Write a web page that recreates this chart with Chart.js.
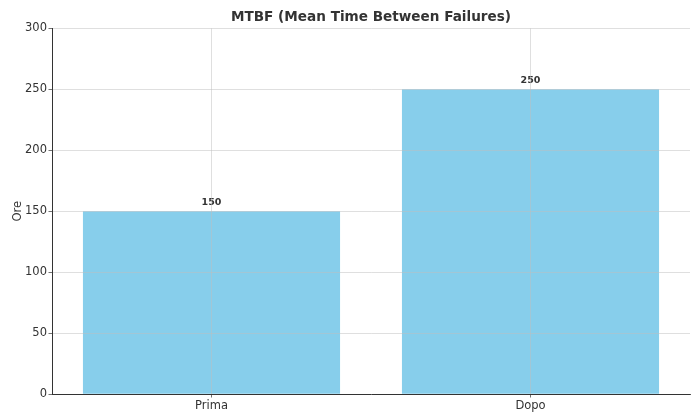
<!DOCTYPE html>
<html><head><meta charset="utf-8">
<script src="https://cdn.jsdelivr.net/npm/chart.js@4/dist/chart.umd.min.js"></script>
<style>html,body{margin:0;padding:0;background:#fff}#wrap{width:700px;height:420px}</style>
</head><body><div id="wrap"><canvas id="c" width="700" height="420"></canvas></div>
<script>
const categories = ["Prima", "Dopo"];
const mtbfValues = [150, 250];
const yTicks = [0, 50, 100, 150, 200, 250, 300];

const FONT = "'DejaVu Sans', sans-serif";
const valueLabels = {
  id: 'valueLabels',
  afterDatasetsDraw(chart) {
    const ctx = chart.ctx;
    const meta = chart.getDatasetMeta(0);
    ctx.save();
    ctx.font = "bold 9.5px " + FONT;
    ctx.fillStyle = '#333';
    ctx.textAlign = 'center';
    ctx.textBaseline = 'bottom';
    meta.data.forEach((bar, i) => {
      ctx.fillText(String(mtbfValues[i]), bar.x, bar.y - 4);
    });
    ctx.restore();
  }
};

const gridOpts = {
  z: 1,
  color: 'rgba(190,190,190,0.7)',
  lineWidth: 0.7,
  borderDash: [2.5, 2],
  tickColor: '#333',
  tickLength: 3.5,
  tickBorderDash: []
};

new Chart(document.getElementById('c'), {
  type: 'bar',
  data: {
    labels: categories,
    datasets: [{
      data: mtbfValues,
      backgroundColor: '#87CEEB',
      borderWidth: 0,
      barPercentage: 0.806,
      categoryPercentage: 1.0
    }]
  },
  options: {
    responsive: false,
    animation: false,
    devicePixelRatio: 1,
    layout: { padding: { left: 7, right: 10, top: 9, bottom: 0 } },
    plugins: {
      legend: { display: false },
      tooltip: { enabled: false },
      title: {
        display: true,
        fullSize: false,
        text: 'MTBF (Mean Time Between Failures)',
        color: '#333',
        font: { family: FONT, size: 13.6, weight: 'bold' },
        padding: { top: 0, bottom: 3 }
      }
    },
    scales: {
      x: {
        offset: true,
        grid: Object.assign({ offset: false }, gridOpts),
        border: { display: true, color: '#333', width: 1, z: 2 },
        ticks: { color: '#333', font: { family: FONT, size: 11.5 }, padding: 1.5 },
        afterFit(s) { s.height = 26; }
      },
      y: {
        min: 0, max: 300,
        afterBuildTicks(s) { s.ticks = yTicks.map(v => ({ value: v })); },
        grid: Object.assign({}, gridOpts),
        border: { display: true, color: '#333', width: 1, z: 2 },
        ticks: { color: '#333', font: { family: FONT, size: 11.5 }, padding: 1.5 },
        title: { display: true, text: 'Ore', color: '#333', font: { family: FONT, size: 11.5 }, padding: 4 },
        afterFit(s) { s.width = 45; }
      }
    }
  },
  plugins: [valueLabels]
});
</script></body></html>
